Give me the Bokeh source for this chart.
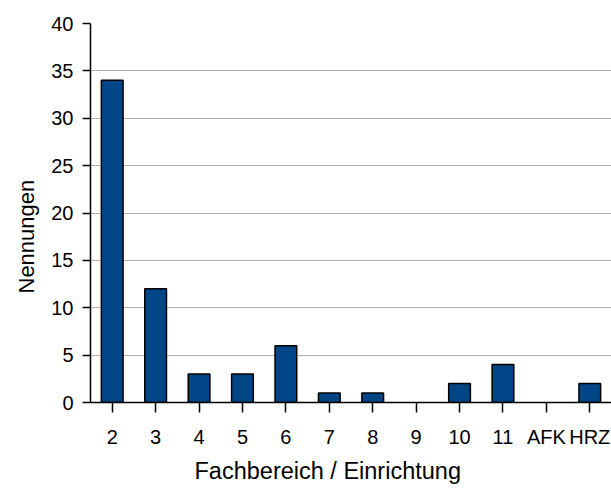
from bokeh.plotting import figure
from bokeh.models import ColumnDataSource, FactorRange, Range1d, FixedTicker, Title
from bokeh.embed import file_html
from bokeh.resources import INLINE

categories = ["2", "3", "4", "5", "6", "7", "8", "9", "10", "11", "AFK", "HRZ"]
counts = [34, 12, 3, 3, 6, 1, 1, 0, 2, 4, 0, 2]
y_ticks = [0, 5, 10, 15, 20, 25, 30, 35, 40]

FONT = "Liberation Sans"

src = ColumnDataSource(dict(cat=categories, n=counts,
                            la=[0.0 if v == 0 else 1.0 for v in counts]))

p = figure(width=611, height=488, output_backend="svg", toolbar_location=None,
           x_range=FactorRange(*categories, range_padding=0),
           y_range=Range1d(0, 40),
           min_border_left=90, min_border_right=0, min_border_top=23, min_border_bottom=86)

p.vbar(x="cat", top="n", width=0.5, source=src,
       fill_color="#004586", line_color="black", line_width=1.5, line_alpha="la")

p.outline_line_color = None
p.xgrid.grid_line_color = None
p.ygrid.grid_line_color = "#b3b3b3"
p.ygrid.grid_line_width = 1.2
p.yaxis.ticker = FixedTicker(ticks=y_ticks)

for ax in (p.xaxis[0], p.yaxis[0]):
    ax.axis_line_color = "black"
    ax.axis_line_width = 1.5
    ax.major_tick_line_color = "black"
    ax.major_tick_line_width = 1.5
    ax.minor_tick_line_color = None
    ax.major_label_text_font = FONT
    ax.major_label_text_font_size = "20px"
    ax.major_label_text_color = "black"

p.xaxis.major_tick_out = 10
p.xaxis.major_tick_in = 0
p.yaxis.major_tick_out = 8
p.yaxis.major_tick_in = 0
p.xaxis.major_label_standoff = 13
p.yaxis.major_label_standoff = 9

xtitle = Title(text="Fachbereich / Einrichtung", align="left", offset=104,
               text_font=FONT, text_font_size="23.5px", text_font_style="normal",
               text_color="black", standoff=10)
p.add_layout(xtitle, "below")

ytitle = Title(text="Nennungen", align="left", offset=109,
               text_font=FONT, text_font_size="22px", text_font_style="normal",
               text_color="black", standoff=20)
p.add_layout(ytitle, "left")

open("out.html", "w").write(file_html(p, INLINE))
